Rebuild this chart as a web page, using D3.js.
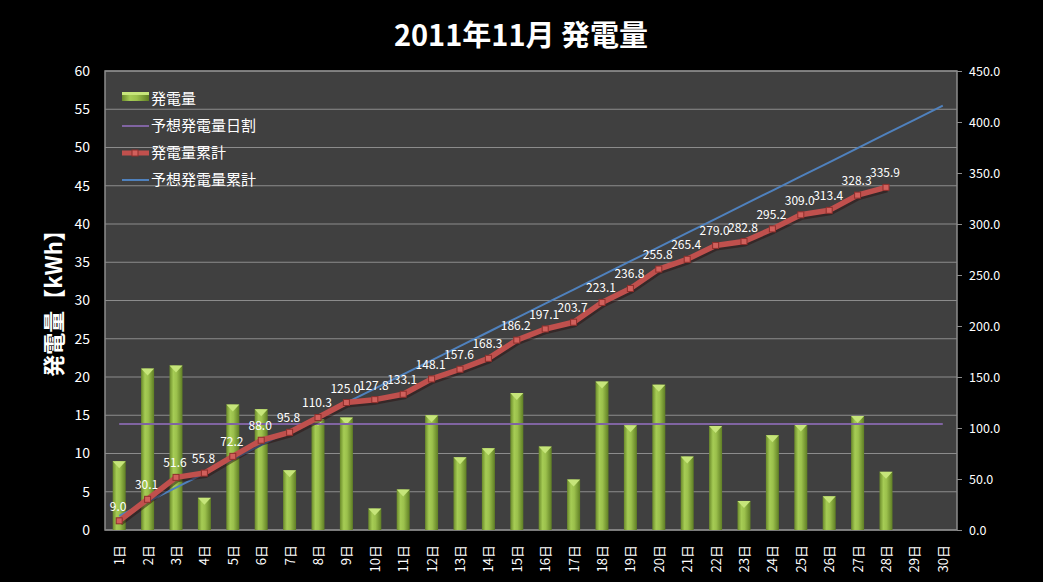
<!DOCTYPE html>
<html><head><meta charset="utf-8">
<script src="https://cdn.jsdelivr.net/npm/d3@7"></script>
<style>
html,body{margin:0;padding:0;background:#000;}
text{font-family:"Noto Sans CJK JP","DejaVu Sans",sans-serif;}
</style></head>
<body><svg id="c" width="1043" height="582"></svg>
<script>
const days = ["1日","2日","3日","4日","5日","6日","7日","8日","9日","10日","11日","12日","13日","14日","15日","16日","17日","18日","19日","20日","21日","22日","23日","24日","25日","26日","27日","28日","29日","30日"];
const daily = [9.0,21.1,21.5,4.2,16.4,15.8,7.8,14.5,14.7,2.8,5.3,15.0,9.5,10.7,17.9,10.9,6.6,19.4,13.7,19.0,9.6,13.6,3.8,12.4,13.8,4.4,14.9,7.6,null,null];
const forecastDaily = [13.87,13.87,13.87,13.87,13.87,13.87,13.87,13.87,13.87,13.87,13.87,13.87,13.87,13.87,13.87,13.87,13.87,13.87,13.87,13.87,13.87,13.87,13.87,13.87,13.87,13.87,13.87,13.87,13.87,13.87];
const cumulative = [9.0,30.1,51.6,55.8,72.2,88.0,95.8,110.3,125.0,127.8,133.1,148.1,157.6,168.3,186.2,197.1,203.7,223.1,236.8,255.8,265.4,279.0,282.8,295.2,309.0,313.4,328.3,335.9,null,null];
const forecastCum = [13.9,27.7,41.6,55.5,69.3,83.2,97.1,110.9,124.8,138.7,152.5,166.4,180.3,194.1,208.0,221.9,235.7,249.6,263.5,277.3,291.2,305.1,318.9,332.8,346.7,360.5,374.4,388.3,402.1,416.0];
const leftTicks = [0,5,10,15,20,25,30,35,40,45,50,55,60];
const rightTicks = [0,50,100,150,200,250,300,350,400,450];
const legendItems = ["発電量","予想発電量日割","発電量累計","予想発電量累計"];
const title = "2011年11月 発電量";
const yTitle = "発電量【kWh】";

const svg = d3.select("#c");
const L=105, R=957, T=71, B=530;
const x = d3.scaleBand().domain(days).range([L,R]).padding(0);
const yL = d3.scaleLinear().domain([0,60]).range([B,T]);
const yR = d3.scaleLinear().domain([0,450]).range([B,T]);
const cx = d => x(d)+x.bandwidth()/2;

const defs = svg.append("defs");
const g1 = defs.append("linearGradient").attr("id","barg").attr("x1","0").attr("x2","1").attr("y1","0").attr("y2","0");
[["0%","#6a8a2a"],["30%","#a6cc55"],["55%","#9bc04c"],["100%","#5f7e24"]].forEach(s=>g1.append("stop").attr("offset",s[0]).attr("stop-color",s[1]));

svg.append("rect").attr("width",1043).attr("height",582).attr("fill","#000");
svg.append("rect").attr("x",L).attr("y",T).attr("width",R-L).attr("height",B-T).attr("fill","#404040");

// gridlines
svg.append("g").selectAll("line").data(leftTicks).join("line")
  .attr("x1",L).attr("x2",R).attr("y1",d=>yL(d)).attr("y2",d=>yL(d))
  .attr("stroke","#8c8c8c").attr("stroke-width",1);
svg.append("rect").attr("x",L).attr("y",T).attr("width",R-L).attr("height",B-T).attr("fill","none").attr("stroke","#8c8c8c").attr("stroke-width",1.5);

// left axis
const ax = d3.axisLeft(yL).tickValues(leftTicks).tickSize(0).tickPadding(15);
const gL = svg.append("g").attr("transform",`translate(${L},0)`).call(ax);
gL.select(".domain").remove();
gL.selectAll("text").attr("fill","#fff").attr("font-size",14);

// right axis
const axR = d3.axisRight(yR).tickValues(rightTicks).tickSize(5).tickPadding(7).tickFormat(d3.format(".1f"));
const gR = svg.append("g").attr("transform",`translate(${R},0)`).call(axR);
gR.select(".domain").remove();
gR.selectAll("line").attr("stroke","#8c8c8c");
gR.selectAll("text").attr("fill","#fff").attr("font-size",12.5);

// x axis labels
svg.append("g").selectAll("text").data(days).join("text")
  .attr("transform",d=>`translate(${cx(d)+5},${545}) rotate(-90)`)
  .attr("text-anchor","end").attr("fill","#fff").attr("font-size",13).text(d=>d);

// bars
const bw = 13;
const bars = svg.append("g").selectAll("g").data(days.map((d,i)=>({d,v:daily[i]})).filter(o=>o.v!=null)).join("g");
bars.append("rect").attr("x",o=>cx(o.d)-bw/2).attr("y",o=>yL(o.v)).attr("width",bw).attr("height",o=>B-yL(o.v)).attr("fill","url(#barg)");
bars.append("path").attr("d",o=>{const x0=cx(o.d)-bw/2,y0=yL(o.v);return `M${x0},${y0}L${x0+bw},${y0}L${x0+bw/2},${y0+7}Z`;}).attr("fill","#c6e57a");

// purple forecast daily line
svg.append("path").datum(forecastDaily).attr("fill","none").attr("stroke","#8064a2").attr("stroke-width",2)
  .attr("d",d3.line().x((d,i)=>cx(days[i])).y(d=>yL(d)));

// blue forecast cumulative
svg.append("path").datum(forecastCum).attr("fill","none").attr("stroke","#4f81bd").attr("stroke-width",2)
  .attr("d",d3.line().x((d,i)=>cx(days[i])).y(d=>yR(d)));

// red cumulative
const cumPts = cumulative.map((v,i)=>({d:days[i],v})).filter(o=>o.v!=null);
svg.append("path").datum(cumPts).attr("fill","none").attr("stroke","#2a1010").attr("stroke-opacity",0.5).attr("stroke-width",6)
  .attr("transform","translate(1,2)").attr("stroke-linejoin","round")
  .attr("d",d3.line().x(o=>cx(o.d)).y(o=>yR(o.v)));
svg.append("path").datum(cumPts).attr("fill","none").attr("stroke","#c0504d").attr("stroke-width",5.5).attr("stroke-linejoin","round")
  .attr("d",d3.line().x(o=>cx(o.d)).y(o=>yR(o.v)));
svg.append("g").selectAll("rect").data(cumPts).join("rect")
  .attr("x",o=>cx(o.d)-3).attr("y",o=>yR(o.v)-3).attr("width",6).attr("height",6)
  .attr("fill","#d2605c").attr("stroke","#8e2f2c").attr("stroke-width",1);
svg.append("g").selectAll("text").data(cumPts).join("text")
  .attr("x",o=>cx(o.d)-1).attr("y",o=>yR(o.v)-10).attr("text-anchor","middle")
  .attr("fill","#fff").attr("font-size",12).text(o=>o.v.toFixed(1));

// legend
const lg = svg.append("g");
const ly = [96,123,150,177];
lg.append("rect").attr("x",122).attr("y",ly[0]-4).attr("width",27).attr("height",9).attr("fill","url(#barg)");
lg.append("rect").attr("x",122).attr("y",ly[0]-4).attr("width",27).attr("height",3).attr("fill","#c6e57a");
lg.append("line").attr("x1",122).attr("x2",149).attr("y1",ly[1]+3).attr("y2",ly[1]+3).attr("stroke","#8064a2").attr("stroke-width",2);
lg.append("line").attr("x1",122).attr("x2",149).attr("y1",ly[2]+3).attr("y2",ly[2]+3).attr("stroke","#c0504d").attr("stroke-width",5);
lg.append("rect").attr("x",132).attr("y",ly[2]).attr("width",6).attr("height",6).attr("fill","#d2605c").attr("stroke","#8e2f2c");
lg.append("line").attr("x1",122).attr("x2",149).attr("y1",ly[3]+3).attr("y2",ly[3]+3).attr("stroke","#4f81bd").attr("stroke-width",2);
lg.selectAll("text").data(legendItems).join("text").attr("x",151).attr("y",(d,i)=>ly[i]+8)
  .attr("fill","#fff").attr("font-size",15).text(d=>d);

// titles
svg.append("text").attr("x",521).attr("y",46).attr("text-anchor","middle").attr("fill","#fff")
  .attr("font-size",29).attr("font-weight","bold").text(title);
svg.append("text").attr("transform","translate(62,298) rotate(-90)").attr("text-anchor","middle").attr("fill","#fff")
  .attr("font-size",22).attr("font-weight","bold").text(yTitle);
</script></body></html>
